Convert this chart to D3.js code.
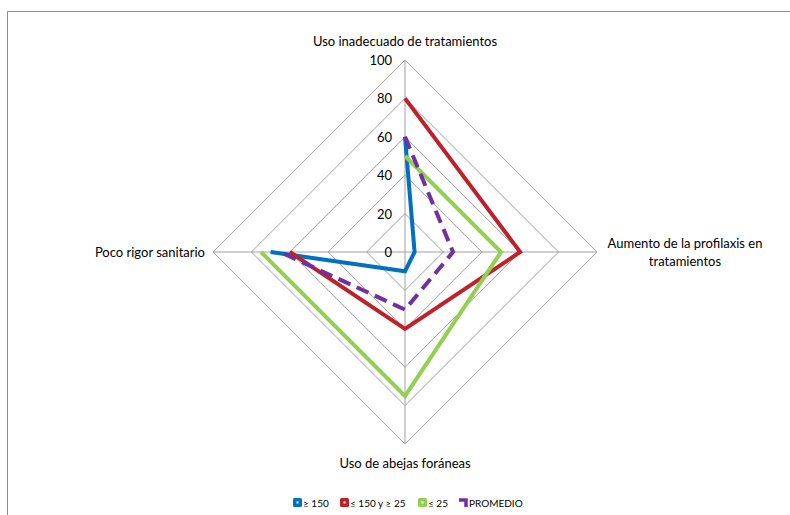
<!DOCTYPE html>
<html>
<head>
<meta charset="utf-8">
<script src="https://cdn.jsdelivr.net/npm/d3@7"></script>
<style>
  body { margin: 0; background: #fff; }
  text { font-family: Lato, "Open Sans", sans-serif; fill: #000; }
</style>
</head>
<body>
<svg id="chart" width="790" height="515"></svg>
<script>
const axes = [
  "Uso inadecuado de tratamientos",
  "Aumento de la profilaxis en tratamientos",
  "Uso de abejas foráneas",
  "Poco rigor sanitario",
];
const seriesNames = ["≥ 150", "≤ 150 y ≥ 25", "≤ 25", "PROMEDIO"];
const mayor150 = [60, 5, 10, 70];
const entre150y25 = [80, 60, 40, 60];
const menor25 = [50, 50, 75, 75];
const promedio = [60, 25, 30, 65];
const ticks = [0, 20, 40, 60, 80, 100];

const colors = ["#0070C0", "#C0202A", "#92D050", "#7030A0"];
const allSeries = [mayor150, entre150y25, menor25, promedio];

const svg = d3.select("#chart");
const cx = 405, cy = 252, R = 192;

// chart border
svg.append("path")
  .attr("d", "M7.5,515 V11.5 H790")
  .attr("fill", "none")
  .attr("stroke", "#8c8c8c")
  .attr("stroke-width", 1);

const r = d3.scaleLinear().domain([0, 100]).range([0, R]);
const angle = d3.scalePoint().domain(d3.range(axes.length)).range([0, 2 * Math.PI * 3 / 4]);

const pt = (i, v) => {
  const a = angle(i);
  return [cx + r(v) * Math.sin(a), cy - r(v) * Math.cos(a)];
};

const g = svg.append("g");

// grid diamonds
g.selectAll(".ring")
  .data(ticks.slice(1))
  .join("path")
  .attr("class", "ring")
  .attr("d", (t) => d3.line()(axes.map((_, i) => pt(i, t))) + "Z")
  .attr("fill", "none")
  .attr("stroke", "#a0a0a0")
  .attr("stroke-width", 1);

// spokes
g.selectAll(".spoke")
  .data(axes)
  .join("line")
  .attr("class", "spoke")
  .attr("x1", cx).attr("y1", cy)
  .attr("x2", (d, i) => pt(i, 100)[0])
  .attr("y2", (d, i) => pt(i, 100)[1])
  .attr("stroke", "#a0a0a0")
  .attr("stroke-width", 1);

// tick labels
g.selectAll(".tick")
  .data(ticks)
  .join("text")
  .attr("class", "tick")
  .attr("x", cx - 13)
  .attr("y", (t) => cy - r(t) + 5)
  .attr("text-anchor", "end")
  .style("font-size", "13px")
  .text((t) => t);

// series (open polylines, as in the original)
const line = d3.line();
g.selectAll(".series")
  .data(allSeries)
  .join("path")
  .attr("class", "series")
  .attr("d", (vals) => line(vals.map((v, i) => pt(i, v))))
  .attr("fill", "none")
  .attr("stroke", (d, i) => colors[i])
  .attr("stroke-width", 4)
  .attr("stroke-linejoin", "miter")
  .attr("stroke-dasharray", (d, i) => (i === 3 ? "13,7" : null));

// axis labels
const lab = svg.append("g").style("font-size", "13px");
lab.append("text").attr("x", cx).attr("y", 46).attr("text-anchor", "middle").text(axes[0]);
const t1 = lab.append("text").attr("x", 685).attr("y", 248).attr("text-anchor", "middle");
t1.append("tspan").attr("x", 685).text("Aumento de la profilaxis en");
t1.append("tspan").attr("x", 685).attr("dy", 18).text("tratamientos");
lab.append("text").attr("x", cx).attr("y", 468).attr("text-anchor", "middle").text(axes[2]);
lab.append("text").attr("x", 205).attr("y", 257).attr("text-anchor", "end").text(axes[3]);

// legend
const legX = [293, 340, 418, 459];
const leg = svg.append("g").style("font-size", "10px");
seriesNames.forEach((name, i) => {
  const it = leg.append("g").attr("transform", `translate(${legX[i]}, 503)`);
  if (i < 3) {
    it.append("rect").attr("x", 0).attr("y", -5).attr("width", 9).attr("height", 9)
      .attr("rx", 1.5).attr("fill", colors[i]);
    it.append("rect").attr("x", 3.5).attr("y", -1.5).attr("width", 2).attr("height", 2).attr("fill", "#fff");
  } else {
    it.append("path").attr("d", "M0,-3 H7 V4")
      .attr("fill", "none").attr("stroke", colors[i]).attr("stroke-width", 3.5);
  }
  it.append("text").attr("x", 10).attr("y", 4).text(name);
});
</script>
</body>
</html>
